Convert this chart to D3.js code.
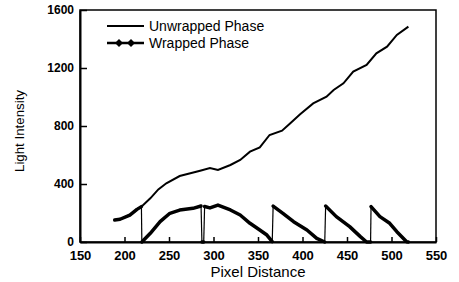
<!DOCTYPE html>
<html>
<head>
<meta charset="utf-8">
<script src="https://cdn.jsdelivr.net/npm/d3@7"></script>
<style>
  body { margin: 0; background: #fff; }
  text { font-family: "Liberation Sans", Arial, sans-serif; fill: #000; }
</style>
</head>
<body>
<div id="chart"></div>
<script>
// unwrapped phase (pixel distance, light intensity)
const unwrappedX = [189, 195, 206, 214, 219, 229, 238, 247, 262, 274, 285, 296, 305, 319, 330, 341, 352, 363, 377, 386, 397, 412, 427, 435, 446, 457, 472, 483, 495, 506, 519]
const unwrappedY = [152, 157, 186, 225, 244, 301, 363, 405, 455, 474, 492, 510, 497, 531, 566, 623, 653, 738, 768, 818, 880, 956, 1002, 1048, 1094, 1175, 1221, 1301, 1347, 1428, 1485]

// wrapped phase
const wrappedX = [189, 195, 206, 214, 219, 219.5, 229, 240, 251, 262, 277, 286, 287, 289, 290, 296, 305, 319, 330, 341, 352, 360, 366, 367, 378, 390, 405, 416, 425, 426, 438, 453, 465, 472, 476.5, 477, 487, 498, 506, 517, 519]
const wrappedY = [152, 157, 186, 225, 244, 0, 60, 140, 198, 220, 232, 248, 0, 0, 245, 235, 255, 221, 186, 129, 83, 48, 2, 248, 198, 140, 83, 25, 0, 248, 175, 106, 37, 0, 0, 244, 175, 129, 71, 2, 0]

const xTicks = [150, 200, 250, 300, 350, 400, 450, 500, 550]
const yTicks = [0, 400, 800, 1200, 1600]

const width = 459, height = 282
const margin = { top: 10, right: 23, bottom: 40, left: 80 }

const svg = d3.select('#chart')
  .append('svg')
  .attr('width', width)
  .attr('height', height)

const x = d3.scaleLinear()
  .domain([150, 550])
  .range([margin.left, width - margin.right])

const y = d3.scaleLinear()
  .domain([0, 1600])
  .range([height - margin.bottom, margin.top])

// frame
svg.append('rect')
  .attr('x', margin.left)
  .attr('y', margin.top)
  .attr('width', x(550) - x(150))
  .attr('height', y(0) - y(1600))
  .attr('fill', 'none')
  .attr('stroke', '#000')
  .attr('stroke-width', 1.5)

const xAxis = svg.append('g')
  .attr('transform', `translate(0, ${y(0)})`)
  .call(d3.axisBottom(x).tickValues(xTicks).tickSizeInner(-5).tickSizeOuter(0).tickPadding(9))
xAxis.select('.domain').attr('stroke-width', 2)
xAxis.selectAll('line').attr('stroke-width', 1.5)
xAxis.selectAll('text').style('font-size', '13px').style('font-weight', 'bold')

const yAxis = svg.append('g')
  .attr('transform', `translate(${margin.left}, 0)`)
  .call(d3.axisLeft(y).tickValues(yTicks).tickFormat(d3.format('d')).tickSizeInner(-7).tickSizeOuter(0).tickPadding(6))
yAxis.select('.domain').attr('stroke-width', 2)
yAxis.selectAll('text').style('font-size', '12px').style('font-weight', 'bold')
yAxis.selectAll('line').attr('stroke-width', 1.5)

const unwrapped = unwrappedX.map((d, i) => [d, unwrappedY[i]])
const wrapped = wrappedX.map((d, i) => [d, wrappedY[i]])

const line = d3.line().x(d => x(d[0])).y(d => y(d[1]))

svg.append('path')
  .datum(unwrapped)
  .attr('fill', 'none')
  .attr('stroke', '#000')
  .attr('stroke-width', 2)
  .attr('d', line)

// split the wrapped series at its 2π jumps: thick runs, thin jump lines
const runs = [[wrapped[0]]]
const jumps = []
for (let i = 1; i < wrapped.length; i++) {
  const a = wrapped[i - 1], b = wrapped[i]
  if (Math.abs(b[1] - a[1]) > 150 && b[0] - a[0] <= 1.5) {
    jumps.push([a, b])
    runs.push([b])
  } else {
    runs[runs.length - 1].push(b)
  }
}

svg.append('g')
  .selectAll('path')
  .data(runs)
  .join('path')
  .attr('fill', 'none')
  .attr('stroke', '#000')
  .attr('stroke-width', 3.5)
  .attr('stroke-linejoin', 'round')
  .attr('stroke-linecap', 'round')
  .attr('d', line)

svg.append('g')
  .selectAll('path')
  .data(jumps)
  .join('path')
  .attr('fill', 'none')
  .attr('stroke', '#000')
  .attr('stroke-width', 1.2)
  .attr('d', line)

// legend
const lg = svg.append('g')
lg.append('line').attr('x1', 107).attr('x2', 144).attr('y1', 26).attr('y2', 26)
  .attr('stroke', '#000').attr('stroke-width', 2)
lg.append('line').attr('x1', 107).attr('x2', 144).attr('y1', 43).attr('y2', 43)
  .attr('stroke', '#000').attr('stroke-width', 2.5)
lg.selectAll('path.dia')
  .data([119, 131])
  .join('path')
  .attr('transform', d => `translate(${d}, 43)`)
  .attr('d', d3.symbol(d3.symbolDiamond2, 40))
  .attr('fill', '#000')
lg.append('text').attr('x', 149).attr('y', 31).attr('font-size', 14).text('Unwrapped Phase')
lg.append('text').attr('x', 149).attr('y', 48).attr('font-size', 14).text('Wrapped Phase')

// axis titles
svg.append('text')
  .attr('x', (x(150) + x(550)) / 2)
  .attr('y', 277)
  .attr('text-anchor', 'middle')
  .attr('font-size', 15)
  .text('Pixel Distance')

svg.append('text')
  .attr('transform', `translate(24, ${y(800) + 5}) rotate(-90)`)
  .attr('text-anchor', 'middle')
  .attr('font-size', 12)
  .attr('textLength', 82)
  .attr('lengthAdjust', 'spacingAndGlyphs')
  .text('Light Intensity')
</script>
</body>
</html>
